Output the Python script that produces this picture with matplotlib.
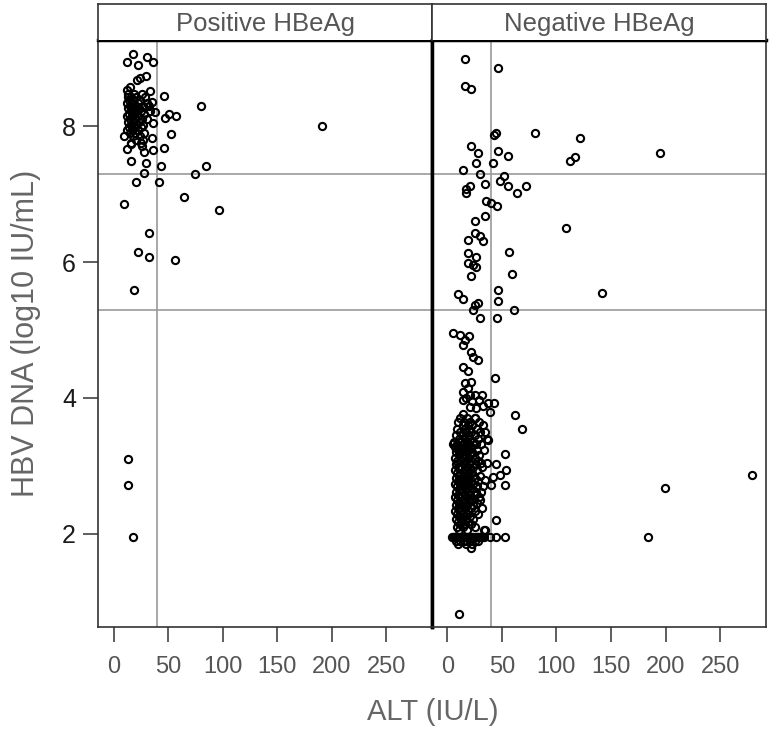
import matplotlib
matplotlib.use("Agg")
import matplotlib.pyplot as plt

plt.rcParams['font.family'] = ['Liberation Sans', 'DejaVu Sans']

panel_titles = ["Positive HBeAg", "Negative HBeAg"]
x_ticks = [0, 50, 100, 150, 200, 250]
y_ticks = [2, 4, 6, 8]
alt_cutoff = 40
dna_cutoffs = [7.3, 5.3]

# ---- Positive HBeAg: ALT (IU/L) and HBV DNA (log10 IU/mL)
pos_alt = [17.4, 31.1, 36, 12.3, 22, 30, 24.5, 21.4, 12.3, 15.3, 33, 46.4, 12.8, 80, 35.4,
           32.4, 38.2, 51, 57.1, 47.3, 190.8, 36, 9.2, 35.7, 52.5, 15.9, 12.3, 26, 28, 36.6,
           46.4, 15.9, 29.7, 43.4, 84.9, 28.1, 75, 20.5, 41.8, 65, 9.2, 97, 32.7, 22, 32.7,
           55.9, 19, 12.8, 12.8, 17.4,
           13, 19, 26, 16, 21, 29, 14, 18, 24, 12, 17, 22, 31, 15, 20, 27, 13, 18, 23,
           16, 21, 25, 33, 14, 19, 28, 12, 17, 22, 15, 20, 26, 31, 13, 18, 23, 16, 21, 27,
           14, 19, 25, 12, 17, 22, 15, 20, 28, 18, 24, 21, 27, 16, 25]
pos_dna = [9.06, 9.01, 8.94, 8.94, 8.89, 8.74, 8.71, 8.68, 8.53, 8.57, 8.52, 8.44, 8.43, 8.29, 8.35,
           8.29, 8.21, 8.18, 8.15, 8.12, 8.00, 8.05, 7.85, 7.83, 7.88, 7.73, 7.66, 7.70, 7.62, 7.64,
           7.68, 7.49, 7.46, 7.41, 7.41, 7.31, 7.29, 7.17, 7.17, 6.96, 6.85, 6.76, 6.42, 6.15, 6.08,
           6.03, 5.59, 3.11, 2.72, 1.95,
           8.47, 8.47, 8.47, 8.42, 8.42, 8.42, 8.38, 8.38, 8.38, 8.34, 8.34, 8.34, 8.34, 8.30, 8.30, 8.30, 8.26, 8.26, 8.26,
           8.22, 8.22, 8.22, 8.22, 8.18, 8.18, 8.18, 8.14, 8.14, 8.14, 8.10, 8.10, 8.10, 8.10, 8.06, 8.06, 8.06, 8.02, 8.02, 8.02,
           7.98, 7.98, 7.98, 7.94, 7.94, 7.94, 7.90, 7.90, 7.90, 7.86, 7.86, 7.80, 7.80, 7.75, 7.75]

# ---- Negative HBeAg: upper points (DNA > 5)
neg_upper_alt = [15.8, 46.7, 15.8, 22, 44.9, 42.4, 80.2, 121.8, 195, 22, 28.4, 46.7, 55.9, 117.2, 112.3,
                 26.5, 42.1, 14.3, 29.6, 51.6, 47.9, 55.9, 72.3, 63.8, 20.4, 17.4, 17.4, 34.4, 35.7, 40.3,
                 45.4, 34.4, 25, 109.2, 25, 29.6, 32.6, 19.2, 57, 19.2, 26.5, 19.2, 26.5, 23.5, 22,
                 58.9, 46.7, 141.3, 9.7, 14.3, 46.7, 28.4, 25, 23.5, 60.7, 29.6, 45.4]
neg_upper_dna = [8.98, 8.85, 8.59, 8.54, 7.90, 7.87, 7.90, 7.83, 7.61, 7.71, 7.60, 7.63, 7.56, 7.54, 7.49,
                 7.46, 7.46, 7.36, 7.29, 7.27, 7.19, 7.12, 7.12, 7.02, 7.12, 7.07, 7.02, 7.14, 6.90, 6.87,
                 6.82, 6.67, 6.60, 6.50, 6.43, 6.38, 6.31, 6.33, 6.15, 6.13, 6.08, 5.98, 5.92, 5.95, 5.79,
                 5.83, 5.59, 5.54, 5.53, 5.45, 5.42, 5.39, 5.37, 5.29, 5.29, 5.17, 5.17]

# ---- Negative HBeAg: middle points (DNA 3.5 - 5)
neg_mid_alt = [11.3, 5.1, 19.8, 15.8, 14.3, 22, 23.4, 28, 14.3, 18.9, 43.3, 15.8, 22, 14.3, 18.9,
               20.4, 25, 31.7, 14.3, 20.4, 26.5, 32.6, 37.2, 42.4, 38.7, 14.3, 25, 61.9, 68, 17, 23, 29]
neg_mid_dna = [4.93, 4.95, 4.91, 4.85, 4.78, 4.68, 4.61, 4.56, 4.46, 4.39, 4.29, 4.22, 4.24, 4.09, 4.14,
               4.04, 4.04, 4.04, 3.97, 3.87, 3.86, 3.88, 3.92, 3.92, 3.80, 3.77, 3.70, 3.75, 3.55, 4.00, 3.95, 3.97]

# ---- Negative HBeAg: dense cluster (DNA 2 - 3.7)
neg_dense_alt = [12, 18, 25, 10, 15, 21, 29, 14, 19, 23, 33, 9, 16, 20, 27, 12, 17, 22, 30, 35,
                 8, 14, 19, 25, 11, 16, 21, 28, 36, 6, 13, 18, 24, 9, 15, 20, 26, 31, 7, 12, 17, 22,
                 10, 14, 19, 27, 34, 8, 13, 18, 23, 11, 16, 21, 29, 7, 14, 19, 25, 9, 12, 17, 22, 28,
                 8, 15, 20, 26, 10, 13, 18, 24, 32, 7, 16, 21, 27, 9, 12, 19, 23, 11, 15, 20, 30,
                 8, 13, 17, 25, 10, 14, 19, 22, 28, 7, 12, 18, 24, 9, 15, 20, 27, 33, 11, 13, 17, 23,
                 8, 14, 19, 26, 31, 10, 16, 21, 25, 7, 12, 18, 29, 9, 14, 20, 23, 30, 11, 15, 19, 27,
                 8, 13, 17, 24, 10, 16, 22, 32, 7, 12, 19, 25, 9, 14, 18, 28, 11, 15, 21, 8, 13, 17, 24,
                 10, 19, 12, 16, 22, 9, 14, 25, 11, 18, 34]
neg_dense_dna = [3.70, 3.70, 3.70, 3.65, 3.65, 3.65, 3.65, 3.60, 3.60, 3.60, 3.60, 3.55, 3.55, 3.55, 3.55,
                 3.50, 3.50, 3.50, 3.50, 3.50, 3.45, 3.45, 3.45, 3.45, 3.40, 3.40, 3.40, 3.40, 3.40,
                 3.36, 3.36, 3.36, 3.36, 3.32, 3.32, 3.32, 3.32, 3.32, 3.28, 3.28, 3.28, 3.28,
                 3.24, 3.24, 3.24, 3.24, 3.24, 3.20, 3.20, 3.20, 3.20, 3.16, 3.16, 3.16, 3.16,
                 3.12, 3.12, 3.12, 3.12, 3.08, 3.08, 3.08, 3.08, 3.08, 3.03, 3.03, 3.03, 3.03,
                 2.98, 2.98, 2.98, 2.98, 2.98, 2.94, 2.94, 2.94, 2.94, 2.90, 2.90, 2.90, 2.90,
                 2.86, 2.86, 2.86, 2.86, 2.82, 2.82, 2.82, 2.82, 2.78, 2.78, 2.78, 2.78, 2.78,
                 2.74, 2.74, 2.74, 2.74, 2.70, 2.70, 2.70, 2.70, 2.70, 2.66, 2.66, 2.66, 2.66,
                 2.62, 2.62, 2.62, 2.62, 2.62, 2.58, 2.58, 2.58, 2.58, 2.54, 2.54, 2.54, 2.54,
                 2.50, 2.50, 2.50, 2.50, 2.50, 2.46, 2.46, 2.46, 2.46, 2.42, 2.42, 2.42, 2.42,
                 2.38, 2.38, 2.38, 2.38, 2.34, 2.34, 2.34, 2.34, 2.30, 2.30, 2.30, 2.30, 2.26, 2.26, 2.26,
                 2.22, 2.22, 2.22, 2.22, 2.18, 2.18, 2.14, 2.14, 2.14, 2.10, 2.10, 2.10, 2.06, 2.06, 2.06]

# ---- Negative HBeAg: right-side and outlying points
neg_out_alt = [5.1, 52.7, 37.2, 31.1, 36.3, 44.9, 54, 48.5, 41.8, 34.2, 40.3, 52.7, 279.3, 199.6,
               184.3, 44.9, 34.2, 22, 10.9]
neg_out_dna = [3.33, 3.18, 3.38, 3.04, 3.05, 3.03, 2.94, 2.87, 2.84, 2.79, 2.72, 2.72, 2.87, 2.67,
               1.96, 2.20, 2.06, 1.80, 0.83]

# ---- Negative HBeAg: lower detection floor
neg_floor_alt = [4, 5, 6, 7, 8, 9, 10, 11, 12, 13, 14, 15, 16, 17, 18, 19, 20, 21, 22, 23, 24, 25,
                 26, 27, 28, 29, 30, 31, 32, 34, 38.7, 44.9, 52.7,
                 8, 12, 15, 18, 21, 25, 28, 10, 17, 23]
neg_floor_dna = [1.95] * 33 + [1.90] * 7 + [1.86] * 3

neg_alt = neg_upper_alt + neg_mid_alt + neg_dense_alt + neg_out_alt + neg_floor_alt
neg_dna = neg_upper_dna + neg_mid_dna + neg_dense_dna + neg_out_dna + neg_floor_dna

W, H = 772, 730
fig = plt.figure(figsize=(W / 100, H / 100), dpi=100)

plot_top, plot_bot = 40, 627
strip_top = 4
panels_x = [(98.3, 432), (432, 766)]
data = [(pos_alt, pos_dna), (neg_alt, neg_dna)]

for i, ((x0, x1), (xa, ya), title) in enumerate(zip(panels_x, data, panel_titles)):
    ax = fig.add_axes([x0 / W, (H - plot_bot) / H, (x1 - x0) / W, (plot_bot - plot_top) / H])
    ax.set_xlim(-14, 292)
    ax.set_ylim(0.632, 9.265)
    for yv in dna_cutoffs:
        ax.axhline(yv, color='#9a9a9a', lw=1.2, zorder=1)
    ax.axvline(alt_cutoff, color='#9a9a9a', lw=1.2, zorder=1)
    ax.plot(xa, ya, 'o', ms=5.2, mfc='none', mec='black', mew=1.5, zorder=3)
    for s in ax.spines.values():
        s.set_color('#333333')
        s.set_linewidth(1.2)
    ax.spines['top'].set_color('black')
    ax.spines['top'].set_linewidth(2.5)
    if i == 0:
        ax.spines['right'].set_color('black')
        ax.spines['right'].set_linewidth(2.5)
        ax.set_yticks(y_ticks)
        ax.tick_params(axis='y', length=11, width=1.1, color='#333333', pad=5,
                       labelsize=18, labelcolor='#1a1a1a', direction='out')
    else:
        ax.spines['left'].set_color('black')
        ax.spines['left'].set_linewidth(2.5)
        ax.set_yticks([])
    ax.set_xticks(x_ticks)
    ax.tick_params(axis='x', length=11, width=1.1, color='#333333', pad=10,
                   labelsize=17, labelcolor='#555555', direction='out')

    sax = fig.add_axes([x0 / W, (H - plot_top) / H, (x1 - x0) / W, (plot_top - strip_top) / H])
    sax.set_xticks([])
    sax.set_yticks([])
    sax.set_facecolor('white')
    for s in sax.spines.values():
        s.set_color('#333333')
        s.set_linewidth(1.2)
    sax.spines['bottom'].set_visible(False)
    sax.text(0.5, 0.45, title, ha='center', va='center', fontsize=18.5,
             color='#555555', transform=sax.transAxes)

fig.text(26 / W, (H - (plot_top + plot_bot) / 2) / H, "HBV DNA (log10 IU/mL)", rotation=90,
         ha='center', va='center', fontsize=22, color='#666666')
fig.text(432.5 / W, (H - 712) / H, "ALT (IU/L)", ha='center', va='center', fontsize=21,
         color='#666666')

fig.savefig("out.png", dpi=100)
